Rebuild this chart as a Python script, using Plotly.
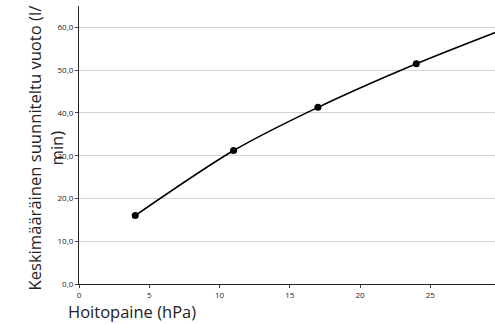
import plotly.graph_objects as go

# Hoitopaine (hPa) vs. keskimääräinen suunniteltu vuoto (l/min)
pressure = [4, 11, 17, 24, 30]
leak = [16.0, 31.2, 41.3, 51.5, 59.3]

x_ticks = [0, 5, 10, 15, 20, 25]
y_ticks = [0, 10, 20, 30, 40, 50, 60]

fig = go.Figure()
fig.add_trace(go.Scatter(
    x=pressure, y=leak,
    mode='lines+markers',
    line=dict(color='black', width=1.6, shape='spline', smoothing=0.8),
    marker=dict(color='black', size=7),
    showlegend=False
))

fig.update_layout(
    width=495, height=324,
    margin=dict(l=79, r=0, t=6, b=40),
    plot_bgcolor='white',
    paper_bgcolor='white',
    separators=', ',
    font=dict(family='Open Sans', color='#222'),
    xaxis=dict(
        range=[0, 29.6], tickvals=x_ticks, ticks='outside', ticklen=3,
        showline=True, linecolor='#222', linewidth=1.2, showgrid=False,
        zeroline=False, tickfont=dict(size=8), ticklabelstandoff=0
    ),
    yaxis=dict(
        range=[0, 65], tickvals=y_ticks, tickformat='.1f', ticks='outside', ticklen=3,
        showline=True, linecolor='#222', linewidth=1.2, showgrid=True,
        gridcolor='#d4d4d4', zeroline=False, tickfont=dict(size=8)
    ),
    annotations=[
        dict(text='Keskimääräinen suunniteltu vuoto (l/<br>min)', textangle=-90,
             xref='paper', yref='paper', x=-0.08, y=0.49, xanchor='center', yanchor='middle',
             showarrow=False, font=dict(size=16.6)),
        dict(text='Hoitopaine (hPa)', xref='paper', yref='paper', x=-0.03, y=0.0,
             xanchor='left', yanchor='bottom', yshift=-40, borderpad=0,
             showarrow=False, font=dict(size=16.5)),
    ]
)

# the page's default body margin would shift the chart by 8 px
fig.write_html("out.html", config={'displayModeBar': False},
               post_script="document.body.style.margin='0';")
